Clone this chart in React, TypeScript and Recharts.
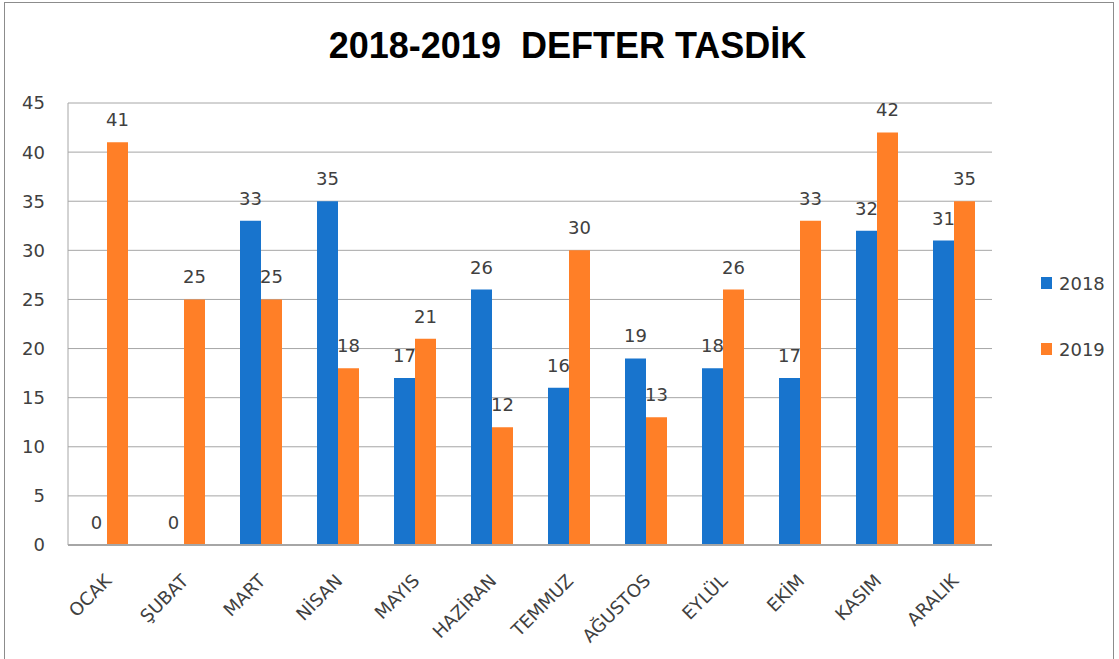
import React from 'react';
import { BarChart, Bar, XAxis, YAxis, CartesianGrid, LabelList } from 'recharts';

const months = ['OCAK', 'ŞUBAT', 'MART', 'NİSAN', 'MAYIS', 'HAZİRAN', 'TEMMUZ', 'AĞUSTOS', 'EYLÜL', 'EKİM', 'KASIM', 'ARALIK'];
const values2018 = [0, 0, 33, 35, 17, 26, 16, 19, 18, 17, 32, 31];
const values2019 = [41, 25, 25, 18, 21, 12, 30, 13, 26, 33, 42, 35];
const yTicks = [0, 5, 10, 15, 20, 25, 30, 35, 40, 45];
const seriesNames = ['2018', '2019'];

const data = months.map((m, i) => ({ month: m, y2018: values2018[i], y2019: values2019[i] }));

const FONT = 'DejaVu Sans, sans-serif';
const BLUE = '#1874cd';
const ORANGE = '#ff7f27';
const TEXT = '#404040';
const GRID = '#a6a6a6';

const XTick = (props: any) => {
  const { x, y, payload } = props;
  return (
    <g transform={`translate(${x + 6},${y + 29})`}>
      <text x={0} y={0} textAnchor="end" transform="rotate(-45)" fontFamily={FONT} fontSize={18} fill={TEXT}>
        {payload.value}
      </text>
    </g>
  );
};

export default function App() {
  return (
    <div style={{ position: 'absolute', left: 0, top: 0, width: 1119, height: 659, background: '#fff', overflow: 'hidden' }}>
      <div style={{ position: 'absolute', left: 4, top: 2, width: 1110, height: 670, border: '1px solid #8c8c8c', boxSizing: 'border-box' }} />
      <div style={{ position: 'absolute', left: 0, top: 25, width: 1135, textAlign: 'center', lineHeight: '41px', fontFamily: 'Liberation Sans, Arial, sans-serif', fontWeight: 'bold', fontSize: 36, color: '#000', whiteSpace: 'pre' }}>
        {'2018-2019  DEFTER TASDİK'}
      </div>
      <div style={{ position: 'absolute', left: 0, top: 0 }}>
        <BarChart width={1119} height={659} data={data} margin={{ top: 103, right: 127, bottom: 0, left: 0 }} barCategoryGap={17} barGap={0}>
          <CartesianGrid vertical={false} stroke={GRID} strokeWidth={1} />
          <XAxis dataKey="month" tick={<XTick />} tickLine={false} axisLine={{ stroke: GRID, strokeWidth: 2 }} interval={0} height={114} />
          <YAxis domain={[0, 45]} ticks={yTicks} width={68} tickSize={0} tickMargin={23} tickLine={false} axisLine={{ stroke: GRID }} tick={{ fontFamily: FONT, fontSize: 18, fill: TEXT }} interval={0} />
          <Bar dataKey="y2018" name={seriesNames[0]} fill={BLUE} barSize={21} minPointSize={0.01} isAnimationActive={false}>
            <LabelList dataKey="y2018" position="top" offset={16} style={{ fontFamily: FONT, fontSize: 18, fill: TEXT }} />
          </Bar>
          <Bar dataKey="y2019" name={seriesNames[1]} fill={ORANGE} barSize={21} minPointSize={0.01} isAnimationActive={false}>
            <LabelList dataKey="y2019" position="top" offset={16} style={{ fontFamily: FONT, fontSize: 18, fill: TEXT }} />
          </Bar>
        </BarChart>
      </div>
      <div style={{ position: 'absolute', left: 1041, top: 272, fontFamily: FONT, fontSize: 18, color: TEXT }}>
        {[BLUE, ORANGE].map((c, i) => (
          <div key={seriesNames[i]} style={{ display: 'flex', alignItems: 'center', height: 22, marginBottom: i === 0 ? 44 : 0 }}>
            <span style={{ display: 'inline-block', width: 11, height: 12, background: c, marginRight: 7 }} />
            <span>{seriesNames[i]}</span>
          </div>
        ))}
      </div>
    </div>
  );
}
